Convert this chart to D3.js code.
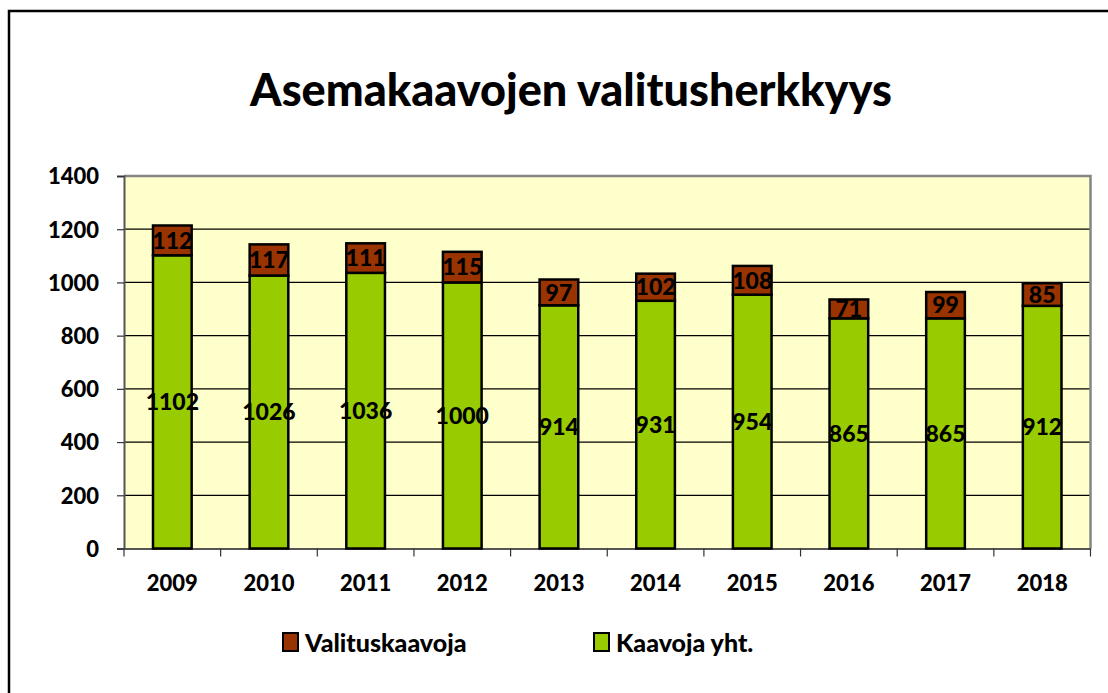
<!DOCTYPE html>
<html>
<head>
<meta charset="utf-8">
<script src="https://cdn.jsdelivr.net/npm/d3@7"></script>
<style>
  html, body { margin: 0; padding: 0; background: #fff; }
  svg { display: block; }
  text { font-family: Lato, "Open Sans", sans-serif; font-weight: 900; fill: #000; }
</style>
</head>
<body>
<script>
const years = ["2009","2010","2011","2012","2013","2014","2015","2016","2017","2018"];
const kaavojaYht = [1102,1026,1036,1000,914,931,954,865,865,912];
const valituskaavoja = [112,117,111,115,97,102,108,71,99,85];
const yTicks = [0,200,400,600,800,1000,1200,1400];
const titleText = "Asemakaavojen valitusherkkyys";
const seriesNames = ["Valituskaavoja", "Kaavoja yht."];
const colors = { green: "#99CC00", brown: "#993300", plotBg: "#FFFFCC" };

const W = 1108, H = 693;
const svg = d3.select("body").append("svg").attr("width", W).attr("height", H);

// outer frame
svg.append("rect").attr("x", 9).attr("y", 11).attr("width", 1200).attr("height", 800)
  .attr("fill", "#fff").attr("stroke", "#000").attr("stroke-width", 2.5);

// title
svg.append("text").attr("x", 571).attr("y", 106).attr("text-anchor", "middle")
  .style("font-size", "45px").text(titleText);

const plot = { left: 124, right: 1090.5, top: 176, bottom: 548.5 };

const x = d3.scaleBand().domain(years).range([plot.left, plot.right]).paddingInner(0.6).paddingOuter(0.3);
const y = d3.scaleLinear().domain([0, 1400]).range([plot.bottom, plot.top]);

// plot background
svg.append("rect").attr("x", plot.left).attr("y", plot.top)
  .attr("width", plot.right - plot.left).attr("height", plot.bottom - plot.top)
  .attr("fill", colors.plotBg);

// gridlines
svg.append("g").selectAll("line").data(yTicks.filter(d => d > 0 && d < 1400)).join("line")
  .attr("x1", plot.left).attr("x2", plot.right)
  .attr("y1", d => y(d)).attr("y2", d => y(d))
  .attr("stroke", "#000").attr("stroke-width", 1.2);

// top and right grey border
svg.append("path")
  .attr("d", `M${plot.left},${plot.top}H${plot.right}V${plot.bottom}`)
  .attr("fill", "none").attr("stroke", "#858585").attr("stroke-width", 2.5);

// y axis
const yAxis = d3.axisLeft(y).tickValues(yTicks).tickFormat(d3.format("d")).tickSize(7).tickPadding(18);
const gy = svg.append("g").attr("transform", `translate(${plot.left},0)`).call(yAxis);
gy.select(".domain").attr("stroke", "#555").attr("stroke-width", 2);
gy.selectAll(".tick line").attr("stroke", "#333").attr("stroke-width", 1.2);
gy.selectAll("text").style("font-size", "22px").style("font-family", "Lato, sans-serif").attr("dy", "0.36em");

// x axis
const xAxis = d3.axisBottom(x).tickSize(0).tickPadding(27);
const gx = svg.append("g").attr("transform", `translate(0,${plot.bottom})`).call(xAxis);
gx.select(".domain").attr("stroke", "#555").attr("stroke-width", 2);
gx.selectAll("text").style("font-size", "22px").style("font-family", "Lato, sans-serif").attr("dy", "0.71em");
// category boundary ticks
const bounds = d3.range(years.length + 1).map(i => plot.left + i * (plot.right - plot.left) / years.length);
gx.append("g").selectAll("line").data(bounds).join("line")
  .attr("x1", d => d).attr("x2", d => d).attr("y1", 0).attr("y2", 8)
  .attr("stroke", "#333").attr("stroke-width", 1.2);

// bars
const bw = x.bandwidth();
const g = svg.append("g");
years.forEach((yr, i) => {
  const g0 = kaavojaYht[i], v = valituskaavoja[i];
  g.append("rect").attr("x", x(yr)).attr("y", y(g0)).attr("width", bw).attr("height", y(0) - y(g0))
    .attr("fill", colors.green).attr("stroke", "#000").attr("stroke-width", 2.5);
  g.append("rect").attr("x", x(yr)).attr("y", y(g0 + v)).attr("width", bw).attr("height", y(g0) - y(g0 + v))
    .attr("fill", colors.brown).attr("stroke", "#000").attr("stroke-width", 2.5);
});
// labels
years.forEach((yr, i) => {
  const g0 = kaavojaYht[i], v = valituskaavoja[i];
  const cx = x(yr) + bw / 2;
  g.append("text").attr("x", cx).attr("y", y(g0 / 2)).attr("dy", "0.36em").attr("text-anchor", "middle")
    .style("font-size", "23px").text(g0);
  g.append("text").attr("x", cx).attr("y", y(g0 + v / 2)).attr("dy", "0.36em").attr("text-anchor", "middle")
    .style("font-size", "23px").text(v);
});

// legend
const legendItems = [
  { name: seriesNames[0], color: colors.brown, x: 283 },
  { name: seriesNames[1], color: colors.green, x: 594 }
];
const lg = svg.append("g");
legendItems.forEach(it => {
  lg.append("rect").attr("x", it.x).attr("y", 633).attr("width", 15).attr("height", 18)
    .attr("fill", it.color).attr("stroke", "#000").attr("stroke-width", 2);
  lg.append("text").attr("x", it.x + 22).attr("y", 643).attr("dy", "0.36em")
    .style("font-size", "25px").text(it.name);
});
</script>
</body>
</html>
